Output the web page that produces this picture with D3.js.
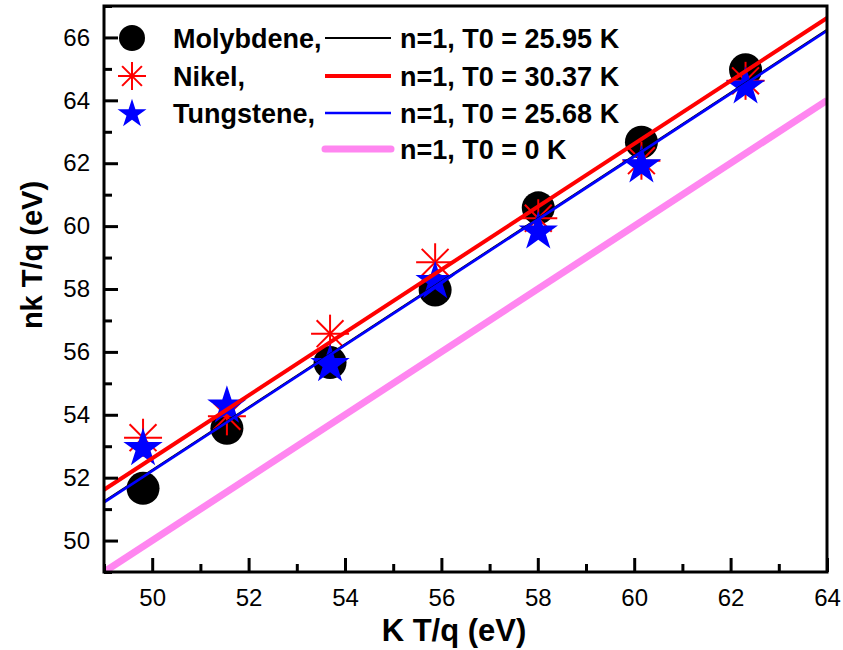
<!DOCTYPE html>
<html>
<head>
<meta charset="utf-8">
<script src="https://cdn.jsdelivr.net/npm/d3@7"></script>
<style>
  html, body { margin: 0; padding: 0; background: #fff; }
  svg { display: block; font-family: "Liberation Sans", Arial, sans-serif; }
</style>
</head>
<body>
<svg id="chart" width="843" height="650"></svg>
<script>
// Thermal voltage data: K T/q on x, nk T/q on y
const kTq = [49.81, 51.55, 53.69, 55.87, 58.01, 60.15, 62.31];
const molybdene = [51.66, 53.57, 55.66, 57.97, 60.58, 62.67, 64.97];
const nikel = [53.27, 53.95, 56.58, 58.85, 60.25, 62.08, 64.62];
const tungstene = [52.93, 54.28, 55.60, 58.24, 59.82, 61.92, 64.43];

// Fitted models: n = 1 with offset temperature T0 (K)
const fitLabels = ["n=1, T0 = 25.95 K", "n=1, T0 = 30.37 K", "n=1, T0 = 25.68 K", "n=1, T0 = 0 K"];
const fitT0 = [25.95, 30.37, 25.68, 0];
const seriesNames = ["Molybdene,", "Nikel,", "Tungstene,"];

const xTicks = [50, 52, 54, 56, 58, 60, 62, 64];
const yTicks = [50, 52, 54, 56, 58, 60, 62, 64, 66];

const kB = 0.08617; // Boltzmann constant in the axis units per kelvin

const svg = d3.select("#chart");
const m = { left: 104, right: 827, top: 6, bottom: 572 };

const x = d3.scaleLinear().domain([49, 64]).range([m.left, m.right]);
const y = d3.scaleLinear().domain([49, 67]).range([m.bottom, m.top]);

svg.append("defs").append("clipPath").attr("id", "plotClip")
  .append("rect")
  .attr("x", m.left).attr("y", m.top)
  .attr("width", m.right - m.left).attr("height", m.bottom - m.top);

const plot = svg.append("g").attr("clip-path", "url(#plotClip)");

// --- scatter markers ---
const pts = s => kTq.map((v, i) => [v, s[i]]);

plot.append("g").selectAll("circle")
  .data(pts(molybdene)).join("circle")
  .attr("cx", d => x(d[0])).attr("cy", d => y(d[1]))
  .attr("r", 16.5).attr("fill", "#000");

function asterisk(g, cx, cy, r, w) {
  for (let k = 0; k < 4; k++) {
    const a = k * Math.PI / 4;
    g.append("line")
      .attr("x1", cx - r * Math.cos(a)).attr("y1", cy - r * Math.sin(a))
      .attr("x2", cx + r * Math.cos(a)).attr("y2", cy + r * Math.sin(a))
      .attr("stroke", "#ff0000").attr("stroke-width", w);
  }
}
const astG = plot.append("g");
pts(nikel).forEach(d => asterisk(astG, x(d[0]), y(d[1]), 19, 2));

const starPath = d3.symbol().type(d3.symbolStar).size(480);
plot.append("g").selectAll("path")
  .data(pts(tungstene)).join("path")
  .attr("transform", d => `translate(${x(d[0])},${y(d[1])})`)
  .attr("d", starPath).attr("fill", "#0000ff");

// --- fitted lines: nkT/q = KT/q + k T0 ---
const lineStyles = [
  { color: "#000000", width: 2.2 },
  { color: "#ff0000", width: 4 },
  { color: "#0000ff", width: 2.6 },
  { color: "#ff86f0", width: 7 }
];
const drawOrder = [3, 0, 2, 1];
const line = d3.line().x(d => x(d[0])).y(d => y(d[1]));
drawOrder.forEach(i => {
  const off = kB * fitT0[i];
  const ends = x.domain().map(v => [v, v + off]);
  plot.append("path").attr("d", line(ends))
    .attr("fill", "none")
    .attr("stroke", lineStyles[i].color)
    .attr("stroke-width", lineStyles[i].width);
});

// --- axes ---
const axisStyle = g => {
  g.select(".domain").remove();
  g.selectAll(".tick line").attr("stroke", "#000").attr("stroke-width", 3);
  g.selectAll(".tick text").attr("fill", "#000")
    .style("font-size", "24px").style("font-family", "'Liberation Sans', Arial, sans-serif");
};

svg.append("g").attr("transform", `translate(0,${m.bottom})`)
  .call(d3.axisBottom(x).tickValues(xTicks).tickSize(-14).tickPadding(17).tickFormat(d3.format("d")))
  .call(axisStyle);
svg.append("g").attr("transform", `translate(0,${m.bottom})`)
  .call(d3.axisBottom(x).tickValues(d3.range(49, 65, 2)).tickSize(-8).tickFormat(""))
  .call(axisStyle);

svg.append("g").attr("transform", `translate(${m.left},0)`)
  .call(d3.axisLeft(y).tickValues(yTicks).tickSize(-14).tickPadding(14).tickFormat(d3.format("d")))
  .call(axisStyle);
svg.append("g").attr("transform", `translate(${m.left},0)`)
  .call(d3.axisLeft(y).tickValues(d3.range(49, 68, 2)).tickSize(-8).tickFormat(""))
  .call(axisStyle);

// frame
svg.append("rect")
  .attr("x", m.left).attr("y", m.top)
  .attr("width", m.right - m.left).attr("height", m.bottom - m.top)
  .attr("fill", "none").attr("stroke", "#000").attr("stroke-width", 3);

// axis titles
svg.append("text")
  .attr("x", 454).attr("y", 641)
  .attr("text-anchor", "middle")
  .style("font-size", "31px").style("font-weight", "bold")
  .text("K T/q (eV)");
svg.append("text")
  .attr("transform", "translate(42,255) rotate(-90)")
  .attr("text-anchor", "middle")
  .style("font-size", "29px").style("font-weight", "bold")
  .text("nk T/q (eV)");

// --- legend ---
const rowY = [38, 76, 113, 149];
const leg = svg.append("g");
leg.append("circle").attr("cx", 132).attr("cy", rowY[0]).attr("r", 13).attr("fill", "#000");
asterisk(leg, 132, rowY[1], 14, 2);
leg.append("path").attr("transform", `translate(132,${rowY[2] + 1})`)
  .attr("d", d3.symbol().type(d3.symbolStar).size(260)()).attr("fill", "#0000ff");

seriesNames.forEach((t, i) => {
  leg.append("text").attr("x", 173).attr("y", rowY[i]).attr("dy", "0.36em")
    .style("font-size", "27px").style("font-weight", "bold").text(t);
});
fitLabels.forEach((t, i) => {
  leg.append("line")
    .attr("x1", 325).attr("x2", 391).attr("y1", rowY[i]).attr("y2", rowY[i])
    .attr("stroke", lineStyles[i].color)
    .attr("stroke-width", lineStyles[i].width)
    .attr("stroke-linecap", i === 3 ? "round" : "butt");
  leg.append("text").attr("x", 400).attr("y", rowY[i]).attr("dy", "0.36em")
    .style("font-size", "27px").style("font-weight", "bold").text(t);
});
</script>
</body>
</html>
